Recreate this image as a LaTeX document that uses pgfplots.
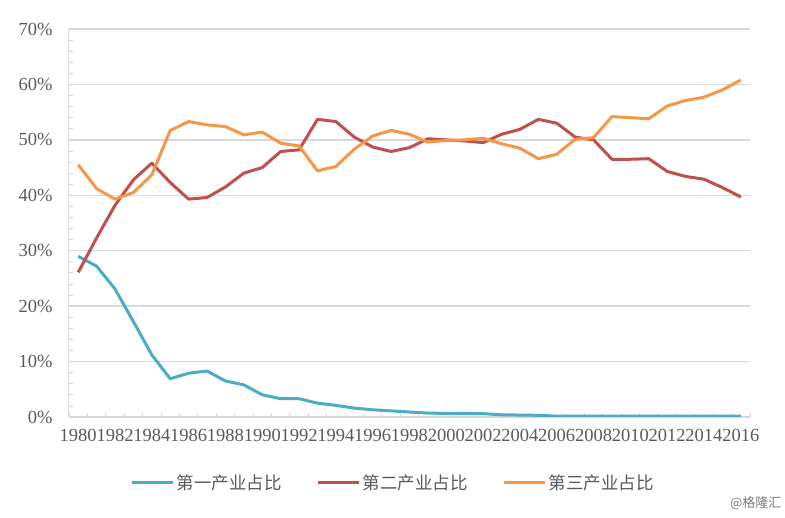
\documentclass[border=0pt]{standalone}
\usepackage{pgfplots}
\pgfplotsset{compat=1.18}
\usepackage{fontspec}
\setmainfont{Liberation Serif}
\newfontfamily\cjk{Noto Sans CJK SC}

\definecolor{c1}{HTML}{4BACC6}
\definecolor{c2}{HTML}{C0504D}
\definecolor{c3}{HTML}{F79646}
\definecolor{gridc}{HTML}{D9D9D9}
\definecolor{txt}{HTML}{595959}

\begin{document}
\begin{tikzpicture}[x=1pt,y=1pt]
\useasboundingbox (-69,-101) rectangle (716,417);
\begin{axis}[
    scale only axis,
    width=681pt, height=388pt,
    xmin=1979.5, xmax=2016.5,
    ymin=0, ymax=70,
    axis x line=bottom, axis y line=left,
    axis line style={gridc, line width=1pt, -},
    xtick={1980,1982,...,2016},
    xticklabels={1980,1982,1984,1986,1988,1990,1992,1994,1996,1998,2000,2002,2004,2006,2008,2010,2012,2014,2016},
    minor xtick={1979.5,1980.5,...,2016.5},
    ytick={0,10,...,70},
    yticklabels={0\%,10\%,20\%,30\%,40\%,50\%,60\%,70\%},
    minor ytick={0,2,...,70},
    major tick length=0pt,
    minor tick length=4pt,
    tick align=inside,
    minor tick style={gridc, line width=0.8pt},
    ymajorgrids,
    major grid style={gridc, line width=1.3pt},
    tick label style={font=\fontsize{18.5}{20}\selectfont, text=txt},
    yticklabel style={xshift=-13pt},
    xticklabel style={yshift=-9pt},
    legend columns=3,
    legend style={draw=none, fill=none, at={(0.4758,-0.17)}, anchor=center,
        font=\cjk\fontsize{17.5}{20}\selectfont, text=txt,
        /tikz/every even column/.append style={column sep=33pt}},
    legend image code/.code={\draw[#1] (0pt,0pt) -- (41pt,0pt);},
    every axis plot/.append style={line width=3pt, line join=round, mark=none},
]
\addplot[c1] coordinates {
(1980,29.0) (1981,27.2) (1982,23.1) (1983,17.2) (1984,11.2) (1985,6.9)
(1986,7.9) (1987,8.3) (1988,6.5) (1989,5.8) (1990,4.0) (1991,3.3)
(1992,3.3) (1993,2.5) (1994,2.1) (1995,1.6) (1996,1.3) (1997,1.1)
(1998,0.9) (1999,0.7) (2000,0.65) (2001,0.65) (2002,0.6) (2003,0.4)
(2004,0.35) (2005,0.3) (2006,0.15) (2007,0.15) (2008,0.15) (2009,0.15)
(2010,0.15) (2011,0.15) (2012,0.15) (2013,0.15) (2014,0.15) (2015,0.15)
(2016,0.15)
};
\addlegendentry{第一产业占比}
\addplot[c2] coordinates {
(1980,26.1) (1981,32.3) (1982,38.2) (1983,42.8) (1984,45.8) (1985,42.3)
(1986,39.3) (1987,39.6) (1988,41.5) (1989,44.0) (1990,45.0) (1991,47.9)
(1992,48.2) (1993,53.7) (1994,53.3) (1995,50.5) (1996,48.7) (1997,47.9)
(1998,48.6) (1999,50.2) (2000,50.0) (2001,49.8) (2002,49.5) (2003,51.0)
(2004,51.9) (2005,53.7) (2006,53.0) (2007,50.5) (2008,50.0) (2009,46.5)
(2010,46.5) (2011,46.6) (2012,44.3) (2013,43.4) (2014,42.9) (2015,41.4)
(2016,39.7)
};
\addlegendentry{第二产业占比}
\addplot[c3] coordinates {
(1980,45.5) (1981,41.2) (1982,39.3) (1983,40.5) (1984,43.7) (1985,51.7)
(1986,53.3) (1987,52.7) (1988,52.4) (1989,50.9) (1990,51.4) (1991,49.4)
(1992,48.9) (1993,44.4) (1994,45.2) (1995,48.3) (1996,50.7) (1997,51.7)
(1998,51.0) (1999,49.6) (2000,49.9) (2001,50.0) (2002,50.3) (2003,49.3)
(2004,48.5) (2005,46.6) (2006,47.4) (2007,50.1) (2008,50.4) (2009,54.2)
(2010,54.0) (2011,53.8) (2012,56.1) (2013,57.1) (2014,57.7) (2015,59.0)
(2016,60.8)
};
\addlegendentry{第三产业占比}
\end{axis}
\node[anchor=east, font=\cjk\fontsize{13}{15}\selectfont, text=txt!80] at (716,-86) {@格隆汇};
\end{tikzpicture}
\end{document}
